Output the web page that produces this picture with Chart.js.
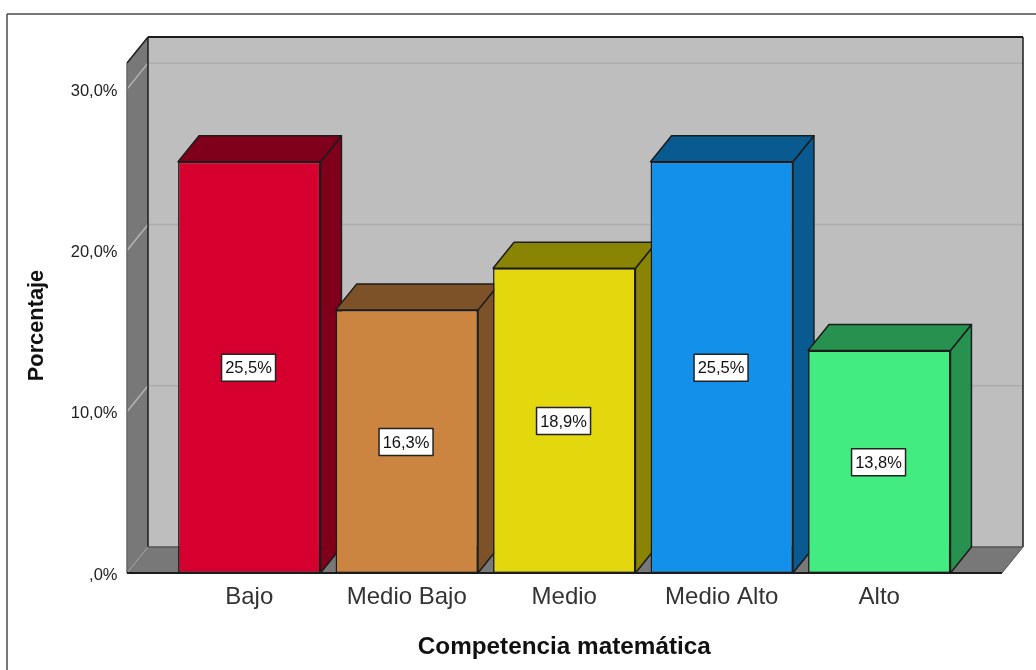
<!DOCTYPE html>
<html>
<head>
<meta charset="utf-8">
<title>Competencia matemática</title>
<script src="https://cdn.jsdelivr.net/npm/chart.js@4/dist/chart.umd.min.js"></script>
<style>
  html, body { margin: 0; padding: 0; background: #fff; }
  #wrap { width: 1036px; height: 670px; }
</style>
</head>
<body>
<div id="wrap"><canvas id="chart" width="1036" height="670"></canvas></div>
<script>
const categories = ["Bajo", "Medio Bajo", "Medio", "Medio Alto", "Alto"];
const percentages = [25.5, 16.3, 18.9, 25.5, 13.8];
const yTickValues = [0, 10, 20, 30];
const frontColors = ["#d6002f", "#cc8540", "#e3d80e", "#1290ea", "#42ec80"];
const sideColors = ["#80001c", "#7d5228", "#8a8405", "#085a90", "#27924f"];

const xTitle = "Competencia matemática";
const yTitle = "Porcentaje";

// extrusion of the 3D box, in pixels
const depthX = 21;
const depthY = 26;
const marginLeft = 43.5;
const marginRight = 44;
const edge = "#1c1c1c";

function fmtPct(v) {
    const s = v.toFixed(1).replace(".", ",");
    return (v === 0 ? s.replace(/^0/, "") : s) + "%";
}

function poly(ctx, pts, fill, stroke, lw) {
    ctx.beginPath();
    pts.forEach((p, i) => i ? ctx.lineTo(p[0], p[1]) : ctx.moveTo(p[0], p[1]));
    ctx.closePath();
    ctx.lineJoin = "round";
    if (fill) { ctx.fillStyle = fill; ctx.fill(); }
    if (stroke) { ctx.strokeStyle = stroke; ctx.lineWidth = lw || 1.5; ctx.stroke(); }
}

function line(ctx, x1, y1, x2, y2, color, lw) {
    ctx.beginPath();
    ctx.moveTo(x1, y1);
    ctx.lineTo(x2, y2);
    ctx.strokeStyle = color;
    ctx.lineWidth = lw;
    ctx.stroke();
}

// outer frame and the rotated y title
const framePlugin = {
    id: "frame",
    beforeDraw(chart) {
        const ctx = chart.ctx;
        line(ctx, 7, 14, 1036, 14, "#4a4a4a", 1.5);
        line(ctx, 7, 14, 7, 670, "#4a4a4a", 1.5);

        ctx.save();
        ctx.translate(37, 325.5);
        ctx.rotate(-Math.PI / 2);
        ctx.font = "bold 21.8px 'Liberation Sans'";
        ctx.fillStyle = "#111";
        ctx.textAlign = "center";
        ctx.textBaseline = "middle";
        ctx.fillText(yTitle, 0, 0);
        ctx.restore();
    }
};

// walls, floor and gridlines, then the top and side face of each bar
const boxPlugin = {
    id: "box3d",
    beforeDatasetsDraw(chart) {
        const ctx = chart.ctx;
        const area = chart.chartArea;
        const y = chart.scales.y;
        const fl = area.left - marginLeft;
        const fr = area.right + marginRight;
        const top = area.top;
        const bot = area.bottom;

        poly(ctx, [[fl + depthX, top - depthY], [fr + depthX, top - depthY], [fr + depthX, bot - depthY], [fl + depthX, bot - depthY]], "#bebebe");
        poly(ctx, [[fl, top], [fl + depthX, top - depthY], [fl + depthX, bot - depthY], [fl, bot]], "#787878");
        poly(ctx, [[fl, bot], [fl + depthX, bot - depthY], [fr + depthX, bot - depthY], [fr, bot]], "#787878");

        yTickValues.forEach(v => {
            if (v === 0) return;
            const py = y.getPixelForValue(v);
            line(ctx, fl + depthX, py - depthY, fr + depthX, py - depthY, "#acacac", 1.5);
            line(ctx, fl, py, fl + depthX, py - depthY, "#b4b4b4", 1.5);
        });
        line(ctx, fl, bot, fl + depthX, bot - depthY, "#a0a0a0", 1);

        // box outline
        line(ctx, fl, top, fl + depthX, top - depthY, edge, 1.5);
        line(ctx, fl + depthX, top - depthY, fr + depthX, top - depthY, edge, 2);
        line(ctx, fr + depthX, top - depthY, fr + depthX, bot - depthY, edge, 1.5);
        line(ctx, fl + depthX, top - depthY, fl + depthX, bot - depthY, edge, 1.5);
        line(ctx, fl + depthX, bot - depthY, fr + depthX, bot - depthY, "#555", 1.5);
        line(ctx, fl, top, fl, bot, "#666", 1.5);
        line(ctx, fr, bot, fr + depthX, bot - depthY, "#555", 1);
        line(ctx, fl, bot, fr, bot, edge, 2);

        chart.getDatasetMeta(0).data.forEach((bar, i) => {
            const half = bar.width / 2;
            const l = bar.x - half;
            const r = bar.x + half;
            poly(ctx, [[r, bar.y], [r + depthX, bar.y - depthY], [r + depthX, bot - depthY], [r, bot]], sideColors[i], edge, 1.5);
            poly(ctx, [[l, bar.y], [l + depthX, bar.y - depthY], [r + depthX, bar.y - depthY], [r, bar.y]], sideColors[i], edge, 1.5);
        });
    }
};

// white value boxes in the middle of each bar
const valuePlugin = {
    id: "valueBoxes",
    afterDatasetsDraw(chart) {
        const ctx = chart.ctx;
        const bot = chart.chartArea.bottom;
        chart.getDatasetMeta(0).data.forEach((bar, i) => {
            const cy = (bar.y + bot) / 2 + 0.5;
            const cx = bar.x - 0.7;
            const w = 54;
            const h = 27;
            ctx.fillStyle = "#fff";
            ctx.fillRect(cx - w / 2, cy - h / 2, w, h);
            ctx.strokeStyle = "#222";
            ctx.lineWidth = 1.5;
            ctx.strokeRect(cx - w / 2, cy - h / 2, w, h);
            ctx.font = "16.5px 'Liberation Sans'";
            ctx.fillStyle = "#111";
            ctx.textAlign = "center";
            ctx.textBaseline = "middle";
            ctx.fillText(fmtPct(percentages[i]), cx, cy + 1);
        });
    }
};

new Chart(document.getElementById("chart").getContext("2d"), {
    type: "bar",
    data: {
        labels: categories,
        datasets: [{
            data: percentages,
            backgroundColor: frontColors,
            borderColor: edge,
            borderWidth: 1.5,
            borderSkipped: false,
            categoryPercentage: 1,
            barPercentage: 0.904
        }]
    },
    options: {
        responsive: false,
        animation: false,
        devicePixelRatio: 1,
        layout: { padding: { left: 0, right: 78, top: 63, bottom: 0 } },
        plugins: {
            legend: { display: false },
            tooltip: { enabled: false }
        },
        scales: {
            x: {
                grid: { display: false },
                border: { display: false },
                afterFit(scale) { scale.height = 97; },
                ticks: {
                    color: "#333",
                    font: { family: "'Liberation Sans'", size: 24 },
                    padding: 2,
                    maxRotation: 0,
                    autoSkip: false
                },
                title: {
                    display: true,
                    text: xTitle,
                    color: "#111",
                    font: { family: "'Liberation Sans'", size: 24.3, weight: "bold" },
                    padding: { top: 16, bottom: 8 }
                }
            },
            y: {
                min: 0,
                max: 31.62,
                grid: { display: false },
                border: { display: false },
                afterFit(scale) { scale.width = 170.5; },
                afterBuildTicks(scale) { scale.ticks = yTickValues.map(v => ({ value: v })); },
                ticks: {
                    color: "#222",
                    font: { family: "'Liberation Sans'", size: 16.5 },
                    padding: 45,
                    labelOffset: 2,
                    callback: v => fmtPct(v)
                }
            }
        }
    },
    plugins: [framePlugin, boxPlugin, valuePlugin]
});
</script>
</body>
</html>
